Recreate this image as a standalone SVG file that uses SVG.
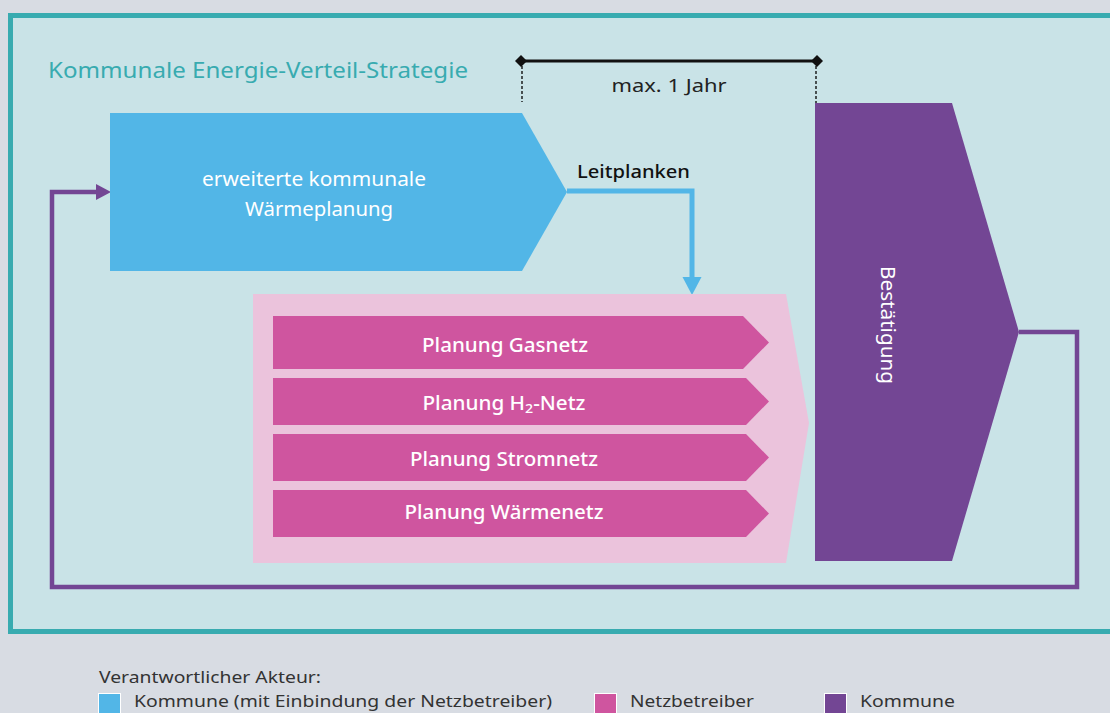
<svg xmlns="http://www.w3.org/2000/svg" width="1110" height="713" viewBox="0 0 1110 713">
<defs>
<style>
.t{font-family:"Noto Sans","Liberation Sans",sans-serif;}
.w{fill:#ffffff;}
.node-label{font-size:19px;}
.bar-label{font-size:19px;font-weight:500;}
.bar{fill:#cf559f;}
.conn-purple{fill:none;stroke:#734694;stroke-width:4.5;stroke-linejoin:miter;}
.conn-blue{fill:none;stroke:#52b6e7;stroke-width:5;}
.dash{stroke:#111;stroke-width:1.4;stroke-dasharray:3 2;}
.leg{font-size:17px;fill:#333;}
.sq{stroke:#fff;stroke-width:1;}
</style>
</defs>
<rect x="0" y="0" width="1110" height="713" fill="#d8dce3"/>
<rect x="10.5" y="15.5" width="1120" height="616" fill="#c9e3e7" stroke="#38abb0" stroke-width="5"/>
<text class="t" x="48" y="78" font-size="22" fill="#38abb0" textLength="420" lengthAdjust="spacingAndGlyphs">Kommunale Energie-Verteil-Strategie</text>

<g id="timespan">
<line x1="521" y1="61" x2="817" y2="61" stroke="#111" stroke-width="3"/>
<polygon points="521,55 527,61 521,67 515,61" fill="#111"/>
<polygon points="817,55 823,61 817,67 811,61" fill="#111"/>
<line class="dash" x1="522" y1="66" x2="522" y2="102"/>
<line class="dash" x1="816" y1="66" x2="816" y2="103"/>
<text class="t" x="669" y="92" font-size="18" fill="#222" text-anchor="middle" textLength="115" lengthAdjust="spacingAndGlyphs">max. 1 Jahr</text>
</g>

<g id="connectors">
<path class="conn-blue" d="M567,191 H692 V279"/>
<polygon points="682.5,277 701.5,277 692,295" fill="#52b6e7"/>
<text class="t" x="577" y="178" font-size="18" font-weight="500" fill="#111" textLength="113" lengthAdjust="spacingAndGlyphs">Leitplanken</text>
<path class="conn-purple" d="M1019,332 H1077 V587 H52 V192 H97"/>
<polygon points="96,184 111,192 96,200" fill="#734694"/>
</g>

<g id="node-waermeplanung">
<polygon points="110,113 522,113 567,192 522,271 110,271" fill="#52b6e7"/>
<text class="t w node-label" x="314" y="186" text-anchor="middle" textLength="224" lengthAdjust="spacingAndGlyphs">erweiterte kommunale</text>
<text class="t w node-label" x="319" y="216" text-anchor="middle" textLength="148" lengthAdjust="spacingAndGlyphs">Wärmeplanung</text>
</g>

<g id="node-netzplanung">
<polygon points="253,294 786,294 809,423 786,563 253,563" fill="#ebc3dc"/>
</g>

<g id="node-gasnetz">
<polygon class="bar" points="273,316 743,316 769,342.5 743,369 273,369"/>
<text class="t w bar-label" x="505" y="352" text-anchor="middle" textLength="166" lengthAdjust="spacingAndGlyphs">Planung Gasnetz</text>
</g>
<g id="node-h2netz">
<polygon class="bar" points="273,378 746,378 769,401.5 746,425 273,425"/>
<text class="t w bar-label" x="504" y="410" text-anchor="middle" textLength="163" lengthAdjust="spacingAndGlyphs">Planung H<tspan font-size="13" dy="3">2</tspan><tspan dy="-3">-Netz</tspan></text>
</g>
<g id="node-stromnetz">
<polygon class="bar" points="273,434 746,434 769,457.5 746,481 273,481"/>
<text class="t w bar-label" x="504" y="466" text-anchor="middle" textLength="188" lengthAdjust="spacingAndGlyphs">Planung Stromnetz</text>
</g>
<g id="node-waermenetz">
<polygon class="bar" points="273,490 746,490 769,513.5 746,537 273,537"/>
<text class="t w bar-label" x="504" y="519" text-anchor="middle" textLength="199" lengthAdjust="spacingAndGlyphs">Planung Wärmenetz</text>
</g>

<g id="node-bestaetigung">
<polygon points="815,103 952,103 1019,332 952,561 815,561" fill="#734694"/>
<text class="t w node-label" x="0" y="0" transform="translate(881,325) rotate(90)" text-anchor="middle" textLength="118" lengthAdjust="spacingAndGlyphs">Bestätigung</text>
</g>

<g id="legend">
<text class="t leg" x="99" y="683" textLength="222" lengthAdjust="spacingAndGlyphs">Verantwortlicher Akteur:</text>
<rect class="sq" x="98.5" y="693.5" width="22" height="22" fill="#52b6e7"/>
<text class="t leg" x="134" y="707" textLength="418" lengthAdjust="spacingAndGlyphs">Kommune (mit Einbindung der Netzbetreiber)</text>
<rect class="sq" x="594.5" y="693.5" width="22" height="22" fill="#cf559f"/>
<text class="t leg" x="630" y="707" textLength="124" lengthAdjust="spacingAndGlyphs">Netzbetreiber</text>
<rect class="sq" x="824.5" y="693.5" width="22" height="22" fill="#734694"/>
<text class="t leg" x="860" y="707" textLength="95" lengthAdjust="spacingAndGlyphs">Kommune</text>
</g>
</svg>
